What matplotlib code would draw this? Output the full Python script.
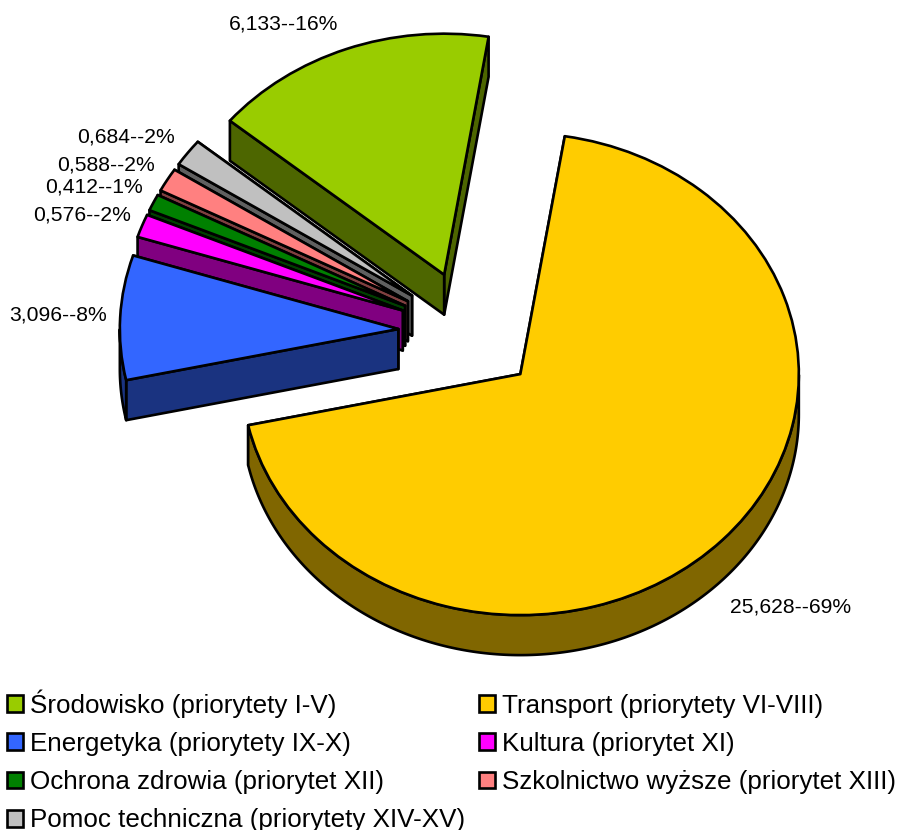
import numpy as np
import matplotlib
matplotlib.use("Agg")
import matplotlib.pyplot as plt
from matplotlib.patches import Polygon, Patch

plt.rcParams['font.family'] = ['Liberation Sans', 'DejaVu Sans']

categories = ["Środowisko (priorytety I-V)", "Transport (priorytety VI-VIII)",
              "Energetyka (priorytety IX-X)", "Kultura (priorytet XI)",
              "Ochrona zdrowia (priorytet XII)", "Szkolnictwo wyższe (priorytet XIII)",
              "Pomoc techniczna (priorytety XIV-XV)"]
values = [6.133, 25.628, 3.096, 0.576, 0.412, 0.588, 0.684]
value_labels = ["6,133--16%", "25,628--69%", "3,096--8%", "0,576--2%",
                "0,412--1%", "0,588--2%", "0,684--2%"]
top_colors = ["#99CC00", "#FFCC00", "#3366FF", "#FF00FF", "#008000", "#FF8080", "#C0C0C0"]
side_colors = ["#4D6600", "#806600", "#1A3380", "#800080", "#004000", "#804040", "#606060"]
stack_order = [0, 6, 5, 4, 3, 2, 1]

W, H = 899, 830
CX, CY, RX, RY, DEPTH = 469.0, 332.0, 278.5, 241.0, 40.0
EXPLODE = 0.254
LW = 1.9

fig = plt.figure(figsize=(W / 100, H / 100), dpi=100)
ax = fig.add_axes([0, 0, 1, 1])
wedges, _ = ax.pie(values, explode=[EXPLODE] * len(values), startangle=140.3,
                   counterclock=False, colors=top_colors,
                   wedgeprops=dict(edgecolor="black", linewidth=LW, joinstyle="round"))
ax.set_aspect("auto")
ax.set_xlim(-CX / RX, (W - CX) / RX)
ax.set_ylim((CY - H) / RY, CY / RY)
ax.axis("off")

d = DEPTH / RY


def side_polys(w):
    cx, cy = w.center
    t1, t2 = np.radians(w.theta1), np.radians(w.theta2)
    out = []
    for t in (t1, t2):
        p = np.array([[cx, cy], [cx + np.cos(t), cy + np.sin(t)],
                      [cx + np.cos(t), cy + np.sin(t) - d], [cx, cy - d]])
        out.append(p)
    th = np.linspace(t1, t2, 400)
    th = th[np.sin(th) <= 0]
    if th.size > 1:
        top = np.column_stack([cx + np.cos(th), cy + np.sin(th)])
        bot = top[::-1] - [0, d]
        out.append(np.vstack([top, bot]))
    return out


for z, i in enumerate(stack_order):
    w = wedges[i]
    w.set_zorder(2 * z + 3)
    for p in side_polys(w):
        ax.add_patch(Polygon(p, closed=True, facecolor=side_colors[i], edgecolor="black",
                             linewidth=LW, joinstyle="round", zorder=2 * z + 2))

label_px = [(284, 24), (791, 607), (58, 315), (82, 215), (94, 187), (106, 165), (126, 137)]
for txt, (x, y) in zip(value_labels, label_px):
    fig.text(x / W, 1 - y / H, txt, fontsize=15.2, ha="center", va="center", color="black")

handles = [Patch(facecolor=c, edgecolor="black", linewidth=LW) for c in top_colors]
legend_order = [0, 2, 4, 6, 1, 3, 5]
leg = fig.legend([handles[i] for i in legend_order], [categories[i] for i in legend_order],
                 ncols=2, loc="upper left", bbox_to_anchor=(7 / W, 1 - 689 / H),
                 frameon=False, fontsize=18.7, handlelength=0.62, handleheight=0.62,
                 handletextpad=0.25, columnspacing=0.55, labelspacing=0.55,
                 borderaxespad=0, borderpad=0)
fig.savefig("out.png", dpi=100)
